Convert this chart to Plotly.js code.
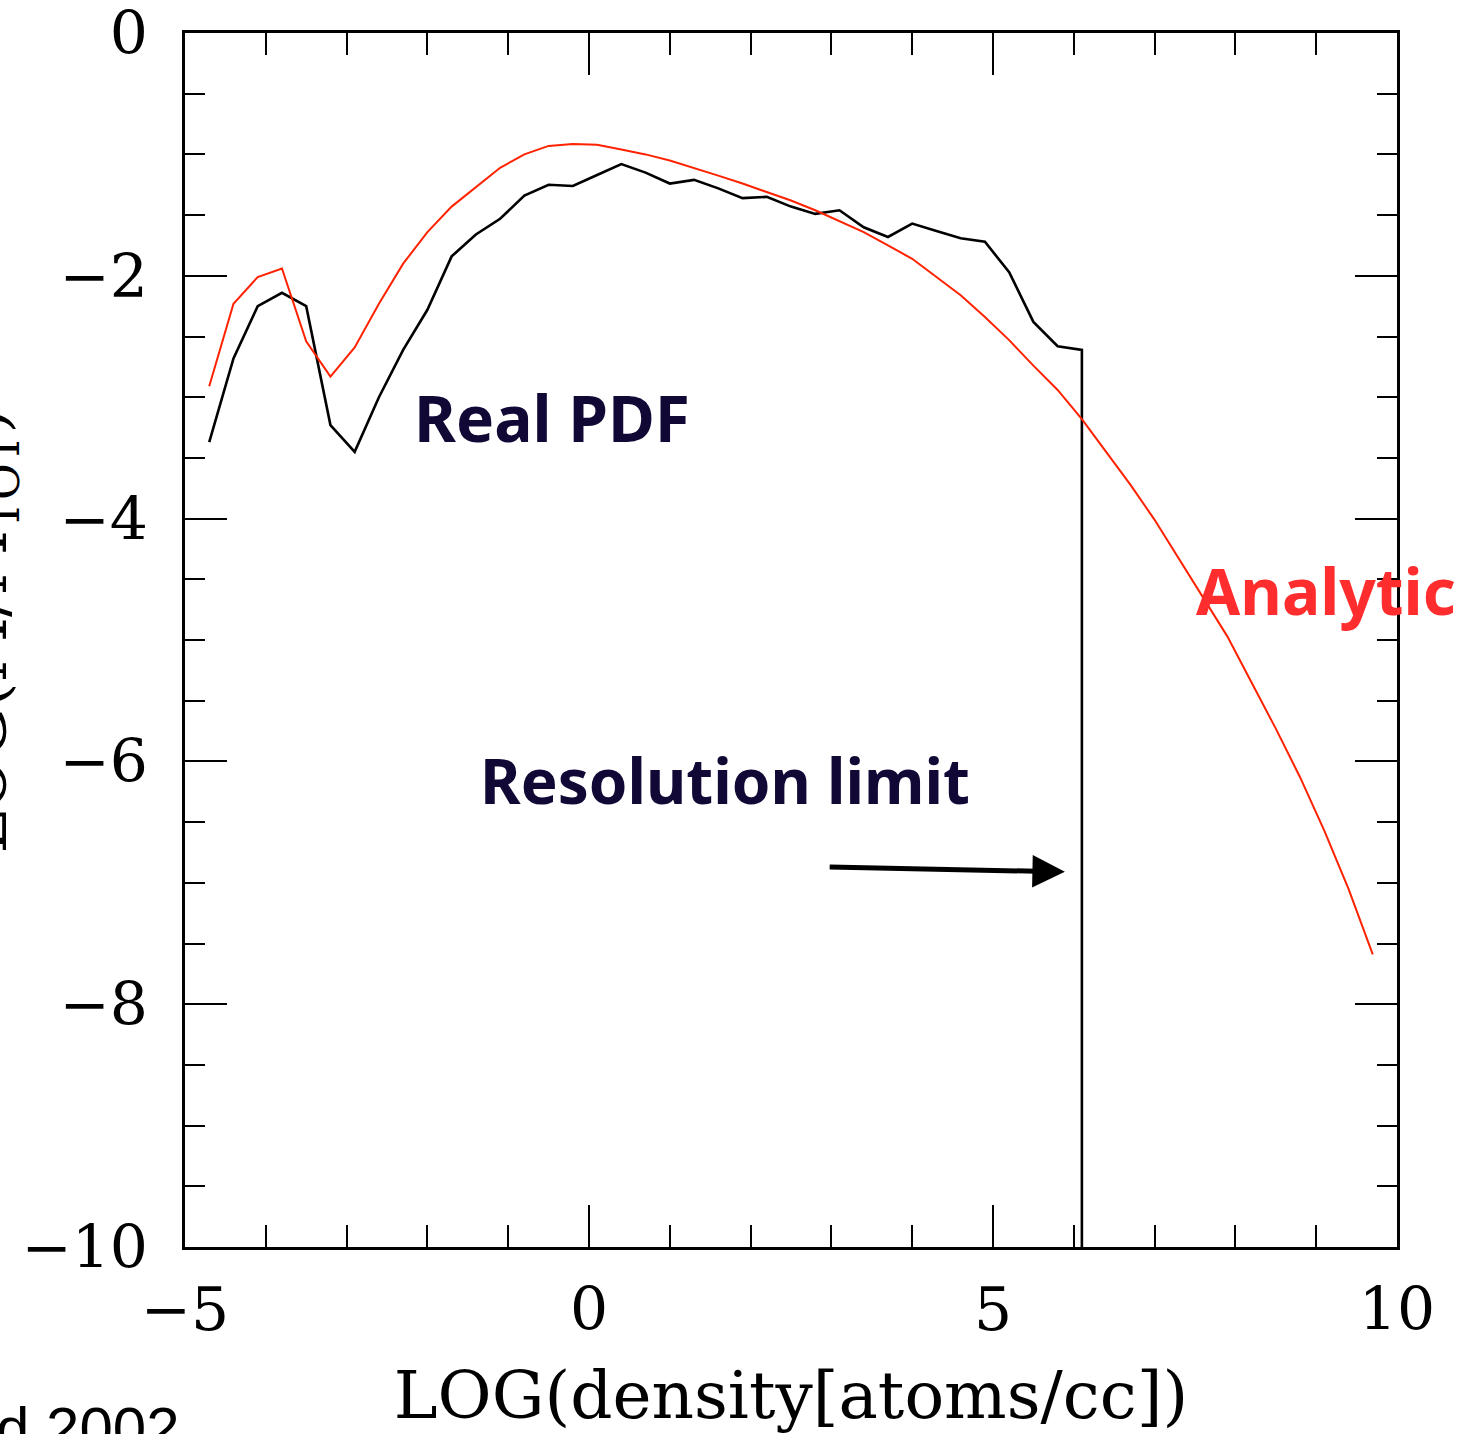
<!DOCTYPE html>
<html>
<head>
<meta charset="utf-8">
<script src="https://cdn.plot.ly/plotly-3.0.1.min.js"></script>
<style>
html,body{margin:0;padding:0;background:#fff;}
#chart{width:1468px;height:1434px;}
</style>
</head>
<body>
<div id="chart"></div>
<script>
// log density bins
const logDensity = [-4.7, -4.4, -4.1, -3.8, -3.5, -3.2, -2.9, -2.6, -2.3, -2.0,
  -1.7, -1.4, -1.1, -0.8, -0.5, -0.2, 0.1, 0.4, 0.7, 1.0,
  1.3, 1.6, 1.9, 2.2, 2.5, 2.8, 3.1, 3.4, 3.7, 4.0,
  4.3, 4.6, 4.9, 5.2, 5.5, 5.8, 6.1, 6.4, 6.7, 7.0,
  7.3, 7.6, 7.9, 8.2, 8.5, 8.8, 9.1, 9.4, 9.7];

// Real PDF (simulation), ends at the resolution limit and drops to the axis
const realPdfX = [-4.7, -4.4, -4.1, -3.8, -3.5, -3.2, -2.9, -2.6, -2.3, -2.0,
  -1.7, -1.4, -1.1, -0.8, -0.5, -0.2, 0.1, 0.4, 0.7, 1.0,
  1.3, 1.6, 1.9, 2.2, 2.5, 2.8, 3.1, 3.4, 3.7, 4.0,
  4.3, 4.6, 4.9, 5.2, 5.5, 5.8, 6.1, 6.1];
const realPdfY = [-3.37, -2.68, -2.25, -2.14, -2.25, -3.23, -3.45, -3.00, -2.61, -2.28,
  -1.84, -1.66, -1.53, -1.34, -1.25, -1.26, -1.17, -1.08, -1.15, -1.24,
  -1.21, -1.28, -1.36, -1.35, -1.43, -1.49, -1.46, -1.60, -1.68, -1.57,
  -1.63, -1.69, -1.72, -1.97, -2.38, -2.58, -2.61, -10];

// Analytic PDF
const analyticY = [-2.91, -2.23, -2.01, -1.94, -2.54, -2.83, -2.59, -2.23, -1.90, -1.64,
  -1.43, -1.27, -1.11, -1.00, -0.93, -0.915, -0.92, -0.96, -1.00, -1.05,
  -1.11, -1.175, -1.24, -1.31, -1.38, -1.46, -1.55, -1.64, -1.75, -1.86,
  -2.01, -2.16, -2.34, -2.53, -2.74, -2.94, -3.18, -3.45, -3.72, -4.01,
  -4.33, -4.65, -4.97, -5.35, -5.73, -6.13, -6.57, -7.05, -7.59];

const xTickVals = [-5, 0, 5, 10];
const yTickVals = [0, -2, -4, -6, -8, -10];

const labelFont = 'Noto Sans, Lato, sans-serif';
const serif = 'DejaVu Serif, Liberation Serif, serif';

const traces = [
  {x: realPdfX, y: realPdfY, type: 'scatter', mode: 'lines',
   line: {color: '#000000', width: 2.6}, name: 'Real PDF', showlegend: false},
  {x: logDensity, y: analyticY, type: 'scatter', mode: 'lines',
   line: {color: '#ff2200', width: 2}, name: 'Analytic', showlegend: false}
];

const axisCommon = {
  showgrid: false, zeroline: false, showline: true, linecolor: '#000', linewidth: 3,
  mirror: 'allticks', ticks: 'inside', tickcolor: '#000', tickwidth: 2, ticklen: 42,
  ticklabeloverflow: 'allow',
  tickfont: {family: serif, size: 60, color: '#000'}
};

const layout = {
  width: 1468, height: 1434,
  margin: {l: 185, r: 71, t: 33, b: 187},
  paper_bgcolor: '#fff', plot_bgcolor: '#fff',
  showlegend: false,
  xaxis: Object.assign({}, axisCommon, {
    range: [-5, 10], tickvals: xTickVals, ticktext: ['\u22125', '0', '5', '10'],
    ticklabelstandoff: 8,
    minor: {dtick: 1, tick0: 0, ticklen: 22, tickwidth: 2, tickcolor: '#000', ticks: 'inside'},
    title: {text: 'LOG(density[atoms/cc])', font: {family: serif, size: 66, color: '#000'}, standoff: 33}
  }),
  yaxis: Object.assign({}, axisCommon, {
    range: [-10, 0], tickvals: yTickVals, ticktext: ['0', '\u22122', '\u22124', '\u22126', '\u22128', '\u221210'],
    ticklabelstandoff: 22,
    minor: {dtick: 0.5, tick0: 0, ticklen: 20, tickwidth: 2, tickcolor: '#000', ticks: 'inside'}
  }),
  annotations: [
    {text: 'Real PDF', x: -0.46, y: -3.17, xref: 'x', yref: 'y', showarrow: false,
     xanchor: 'center', yanchor: 'middle',
     font: {family: labelFont, size: 64, color: '#120836', weight: 'bold'}},
    {text: 'Resolution limit', x: 1.68, y: -6.15, xref: 'x', yref: 'y', showarrow: false,
     xanchor: 'center', yanchor: 'middle',
     font: {family: labelFont, size: 62, color: '#120836', weight: 'bold'}},
    {text: 'Analytic', x: 9.12, y: -4.59, xref: 'x', yref: 'y', showarrow: false,
     xanchor: 'center', yanchor: 'middle',
     font: {family: labelFont, size: 64, color: '#ff2d2d', weight: 'bold'}},
    {text: '', x: 5.89, y: -6.91, ax: 2.96, ay: -6.87, xref: 'x', yref: 'y', axref: 'x', ayref: 'y',
     showarrow: true, arrowhead: 2, arrowsize: 1.3, arrowwidth: 5, arrowcolor: '#000', standoff: 0},
    {text: 'LOG(M/M<sub>TOT</sub>)', xref: 'paper', yref: 'paper', x: -0.1625, y: 0.507,
     textangle: -90, showarrow: false, xanchor: 'center', yanchor: 'middle',
     font: {family: serif, size: 64, color: '#000'}},
    {text: 'd 2002', xref: 'paper', yref: 'paper', x: (182 - 185) / 1212, y: -(1428 - 1247) / 1214,
     xanchor: 'right', yanchor: 'middle', showarrow: false,
     font: {family: 'Liberation Sans, Arial, sans-serif', size: 60, color: '#000'}}
  ]
};

Plotly.newPlot('chart', traces, layout, {displayModeBar: false, staticPlot: true});
</script>
</body>
</html>
